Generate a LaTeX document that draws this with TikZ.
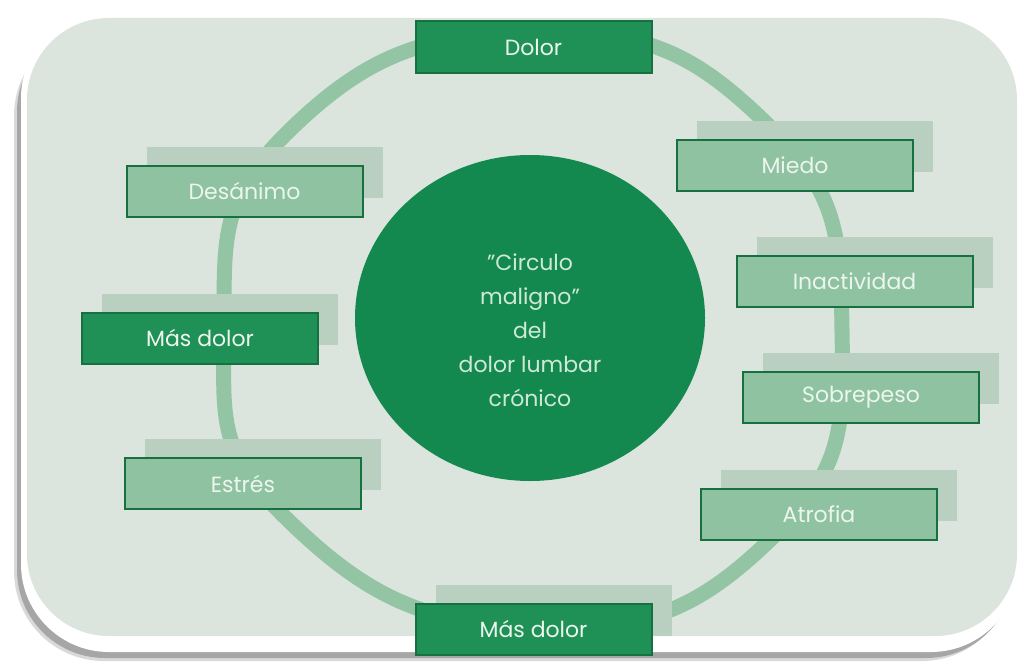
\documentclass[tikz,border=0pt]{standalone}
\usepackage{fontspec}
\setmainfont{Poppins}
\usetikzlibrary{shadows,shapes.geometric}
\definecolor{bg}{HTML}{DBE5DD}
\definecolor{ringc}{HTML}{93C4A4}
\definecolor{lightfill}{HTML}{8FC2A1}
\definecolor{darkfill}{HTML}{1F9056}
\definecolor{boxline}{HTML}{17703F}
\definecolor{shadowc}{HTML}{B9CFC0}
\definecolor{circc}{HTML}{13894F}
\definecolor{txtc}{HTML}{ECF6EE}
\definecolor{ctxt}{HTML}{CFE9D6}
\begin{document}
\begin{tikzpicture}[x=1pt,y=-1pt,
  basebox/.style={rectangle, minimum width=236pt, minimum height=51pt, line width=2pt,
    draw=boxline, font=\fontsize{22}{24}\selectfont, text=txtc, inner sep=0pt},
  withshadow/.style={general shadow={fill=shadowc, shadow xshift=20pt, shadow yshift=19pt}},
  lightbox/.style={basebox, fill=lightfill, withshadow},
  darkbox/.style={basebox, fill=darkfill},
  ]
\useasboundingbox (0,0) rectangle (1022,661);
\fill[white] (0,0) rectangle (1022,661);
% frame with shadow
\fill[black!15, rounded corners=90pt] (14,26) rectangle (1012,661);
\fill[black!35, rounded corners=88pt] (17,24) rectangle (1014,658);
\fill[white, rounded corners=88pt] (21,10) rectangle (1019,652);
\fill[bg, rounded corners=82pt] (27,18) rectangle (1017,636);
% ring
\draw[ringc, line width=15pt] plot[smooth cycle, tension=0.85] coordinates {
  (534,32) (765,122) (842,330) (772,538) (534,628) (290,522) (224,330) (292,128)};
% centre
\node[ellipse, fill=circc, minimum width=350pt, minimum height=326pt, inner sep=0pt] (centre) at (530,318) {};
\node[text=ctxt, align=center, font=\fontsize{22}{34}\selectfont] (centretext) at (530,330)
  {\char34Circulo\\maligno\char34\\del\\dolor lumbar\\crónico};
% boxes
\node[darkbox] (dolor) at (533.5,47) {Dolor};
\node[lightbox] (desanimo) at (244.5,191) {Desánimo};
\node[lightbox] (miedo) at (795,165.5) {Miedo};
\node[lightbox] (inactividad) at (854.5,281.5) {Inactividad};
\node[darkbox, withshadow] (masdolorL) at (200,338) {Más dolor};
\node[lightbox] (sobrepeso) at (861,397.5) {Sobrepeso};
\node[lightbox] (estres) at (243,483.5) {Estrés};
\node[lightbox] (atrofia) at (819,514) {Atrofia};
\node[darkbox, withshadow] (masdolorB) at (533.5,629) {Más dolor};
\end{tikzpicture}
\end{document}
